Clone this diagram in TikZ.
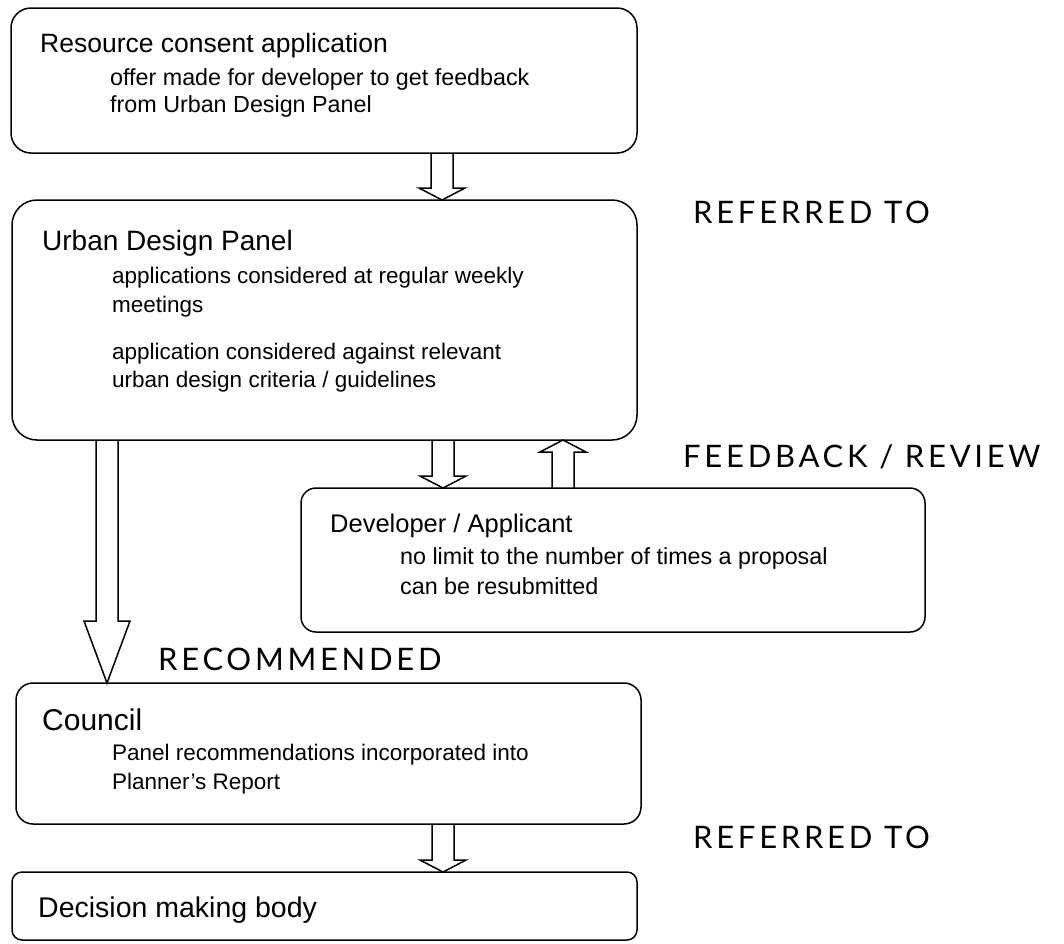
\documentclass[tikz,border=0pt]{standalone}
\usepackage{fontspec}
\setmainfont{Liberation Sans}
\newfontfamily\labelfont[LetterSpace=12]{Lato}
\usetikzlibrary{calc}
\tikzset{
  box/.style={draw, line width=1.5pt, inner sep=0pt, outer sep=0pt, anchor=north west},
  ttl/.style={anchor=base west, inner sep=0pt, font=\fontsize{#1}{30}\selectfont},
  ttl/.default=25.5,
  sub/.style={anchor=base west, inner sep=0pt, font=\fontsize{#1}{27}\selectfont},
  sub/.default=22.5,
  lbl/.style={anchor=base west, inner sep=0pt, font=\labelfont\fontsize{31}{36}\selectfont},
  blk/.style={draw, line width=1.5pt, line join=miter}
}
\newcommand\blkdown[4]{% center x, from node, to node, head length
  \draw[blk] ($(#1,0 |- #2.south)+(-11,0)$) -- ($(#1,0 |- #3.north)+(-11,-#4)$)
    -- ($(#1,0 |- #3.north)+(-23,-#4)$) -- (#1,0 |- #3.north)
    -- ($(#1,0 |- #3.north)+(23,-#4)$) -- ($(#1,0 |- #3.north)+(11,-#4)$)
    -- ($(#1,0 |- #2.south)+(11,0)$);}
\newcommand\blkup[4]{% center x, from node (below), to node (above), head length
  \draw[blk] ($(#1,0 |- #2.north)+(-11,0)$) -- ($(#1,0 |- #3.south)+(-11,#4)$)
    -- ($(#1,0 |- #3.south)+(-23,#4)$) -- (#1,0 |- #3.south)
    -- ($(#1,0 |- #3.south)+(23,#4)$) -- ($(#1,0 |- #3.south)+(11,#4)$)
    -- ($(#1,0 |- #2.north)+(11,0)$);}
\begin{document}
\begin{tikzpicture}[x=1pt, y=-1pt]
\useasboundingbox (0,0) rectangle (1064,943);
% boxes
\node[box, rounded corners=20pt, minimum width=626pt, minimum height=145pt] (r1) at (11,8) {};
\node[box, rounded corners=25pt, minimum width=625pt, minimum height=240pt] (r2) at (12,200) {};
\node[box, rounded corners=15pt, minimum width=624pt, minimum height=144pt] (r3) at (301,488) {};
\node[box, rounded corners=17pt, minimum width=625pt, minimum height=141pt] (r4) at (16,683) {};
\node[box, rounded corners=10pt, minimum width=625pt, minimum height=68pt] (r5) at (12,872) {};
% texts
\node[ttl=26.5] (t1) at (40,52) {Resource consent application};
\node[sub=23.3] (s1a) at (110,85) {offer made for developer to get feedback};
\node[sub=23.3] (s1b) at (110,112) {from Urban Design Panel};
\node[ttl=28] (t2) at (42,250) {Urban Design Panel};
\node[sub] (s2a) at (112,283) {applications considered at regular weekly};
\node[sub] (s2b) at (112,312) {meetings};
\node[sub] (s2c) at (112,359) {application considered against relevant};
\node[sub] (s2d) at (112,387) {urban design criteria / guidelines};
\node[ttl] (t3) at (330,532) {Developer / Applicant};
\node[sub=23.3] (s3a) at (400,564) {no limit to the number of times a proposal};
\node[sub=23.3] (s3b) at (400,594) {can be resubmitted};
\node[ttl=30] (t4) at (42,730) {Council};
\node[sub] (s4a) at (112,760) {Panel recommendations incorporated into};
\node[sub] (s4b) at (112,789) {Planner's Report};
\node[ttl=28.5] (t5) at (38,917) {Decision making body};
% labels
\node[lbl] (l1) at (693,223) {REFERRED TO};
\node[lbl] (l2) at (683,467) {FEEDBACK / REVIEW};
\node[lbl] (l3) at (158,670) {RECOMMENDED};
\node[lbl] (l4) at (693,848) {REFERRED TO};
% arrows
\blkdown{442}{r1}{r2}{12}
\blkdown{443}{r2}{r3}{12}
\blkup{563}{r3}{r2}{12}
\blkdown{107}{r2}{r4}{62}
\blkdown{443}{r4}{r5}{12}
\end{tikzpicture}
\end{document}
